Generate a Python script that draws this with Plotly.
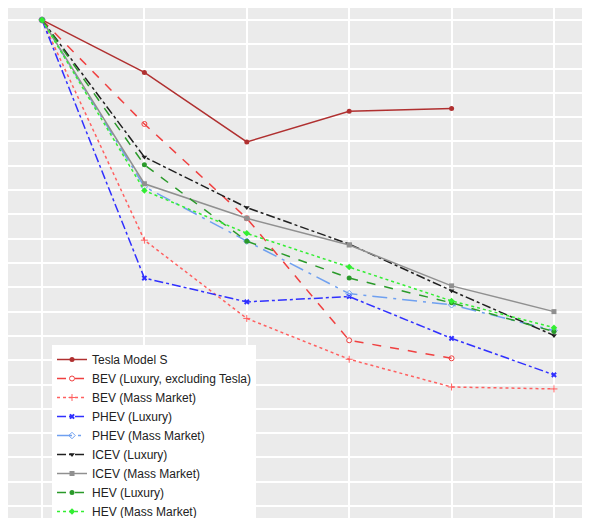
import plotly.graph_objects as go

# time steps (no axis labels visible in the reference)
periods = [0, 1, 2, 3, 4, 5]

# relative value index, 100 = start
tesla = [100, 89.2, 74.9, 81.2, 81.8]
bev_lux = [100, 78.6, 59.2, 34.1, 30.4]
bev_mass = [100, 54.7, 38.6, 30.2, 24.5, 24.1]
phev_lux = [100, 46.9, 42.0, 43.1, 34.5, 27.0]
phev_mass = [100, 65.7, 54.5, 43.7, 41.4, 36.1]
icev_lux = [100, 71.8, 61.4, 53.9, 44.3, 35.1]
icev_mass = [100, 66.3, 59.2, 53.7, 45.3, 40.0]
hev_lux = [100, 70.2, 54.5, 46.9, 41.8, 35.9]
hev_mass = [100, 64.9, 56.1, 49.2, 42.2, 36.7]

series = [
    ("Tesla Model S", tesla, "#b03030", "solid", "circle"),
    ("BEV (Luxury, excluding Tesla)", bev_lux, "#f04040", "dash", "circle-open"),
    ("BEV (Mass Market)", bev_mass, "#ff6060", "dot", "cross-thin-open"),
    ("PHEV (Luxury)", phev_lux, "#3030ff", "dashdot", "x"),
    ("PHEV (Mass Market)", phev_mass, "#6fa0f0", "longdashdot", "diamond-open"),
    ("ICEV (Luxury)", icev_lux, "#202020", "dashdot", "triangle-down"),
    ("ICEV (Mass Market)", icev_mass, "#909090", "solid", "square"),
    ("HEV (Luxury)", hev_lux, "#2a9a2a", "dash", "circle"),
    ("HEV (Mass Market)", hev_mass, "#33ee33", "dot", "diamond"),
]

fig = go.Figure()
for name, vals, col, dash, sym in series:
    fig.add_trace(go.Scatter(
        x=periods[:len(vals)], y=vals, name=name, mode="lines+markers",
        line=dict(color=col, dash=dash, width=1.5),
        marker=dict(color=col, symbol=sym, size=5)))

fig.update_layout(
    width=590, height=518,
    margin=dict(l=0, r=0, t=0, b=0),
    plot_bgcolor="#ebebeb", paper_bgcolor="#ebebeb",
    font=dict(family="Liberation Sans, Arial", size=12, color="#222"),
    legend=dict(x=0.0746, y=0.344, xanchor="left", yanchor="top",
                bgcolor="white", tracegroupgap=0, itemwidth=30),
    xaxis=dict(range=[-0.332, 5.43], showticklabels=False, gridcolor="white",
               gridwidth=2, dtick=1, zeroline=False, showline=False),
    yaxis=dict(range=[-3.27, 102.45], showticklabels=False, gridcolor="white",
               gridwidth=2, dtick=5, tick0=0, zeroline=False, showline=False),
)

fig.write_html("out.html")
